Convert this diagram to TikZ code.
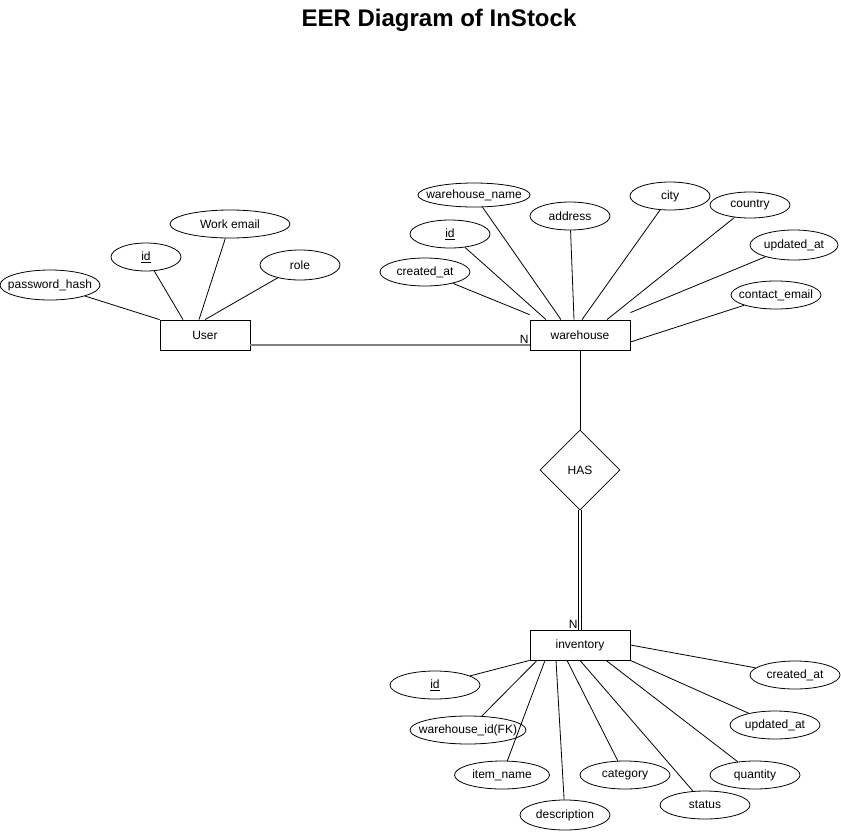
\documentclass[tikz,border=0pt]{standalone}
\usepackage{fontspec}
\setmainfont{Liberation Sans}
\usetikzlibrary{shapes.geometric}

\begin{document}
\begin{tikzpicture}[x=1pt,y=-1pt,line width=0.8pt,
	font=\fontsize{12}{14}\selectfont,
	entity/.style={draw,rectangle,minimum width=100pt,minimum height=30pt,inner sep=0pt},
	attr/.style={draw,ellipse,minimum width=80pt,minimum height=28pt,inner ysep=0pt,inner xsep=-8pt},
	rel/.style={draw,diamond,minimum width=80pt,minimum height=80pt,inner sep=0pt,aspect=1},
	card/.style={anchor=south east,inner sep=0.5pt}]
	\useasboundingbox (0,0) rectangle (841,831);
	\node[font=\fontsize{24}{28}\selectfont\bfseries] (title) at (439,20) {EER Diagram of InStock};

	% user
	\node[entity,minimum width=90pt] (user) at (205,335) {User};
	\node[attr,minimum width=100pt,minimum height=30pt] (upw) at (50,285) {password\_hash};
	\node[attr,minimum width=70pt] (uid) at (146,257) {\underline{id}};
	\node[attr,minimum width=120pt] (umail) at (230,224) {Work email};
	\node[attr,minimum height=30pt] (urole) at (300,265) {role};
	\draw (upw) -- (user.north west);
	\draw (uid) -- ([xshift=-22pt]user.north);
	\draw (umail) -- ([xshift=-6pt]user.north);
	\draw (urole) -- (user.north);

	% warehouse
	\node[entity] (wh) at (580,335) {warehouse};
	\node[attr,minimum width=110pt,minimum height=24pt] (wname) at (474,195) {warehouse\_name};
	\node[attr,minimum width=80pt] (wid) at (450,234) {\underline{id}};
	\node[attr,minimum width=90pt] (wcreated) at (425,272) {created\_at};
	\node[attr] (waddr) at (570,216) {address};
	\node[attr] (wcity) at (670,196) {city};
	\node[attr,minimum height=26pt] (wcountry) at (750,205) {country};
	\node[attr,minimum width=88pt,minimum height=30pt] (wupdated) at (794,245) {updated\_at};
	\node[attr,minimum width=90pt] (wmail) at (776,295) {contact\_email};
	\draw (wcreated) -- ([yshift=5pt]wh.north west);
	\draw (wid) -- ([xshift=-34pt]wh.north);
	\draw (wname) -- ([xshift=-19pt]wh.north);
	\draw (waddr) -- ([xshift=-6pt]wh.north);
	\draw (wcity) -- ([xshift=2pt]wh.north);
	\draw (wcountry) -- ([xshift=27pt]wh.north);
	\draw (wupdated) -- ([yshift=7pt]wh.north east);
	\draw (wmail) -- ([yshift=-7pt]wh.east);

	\draw[gray,line width=1.2pt] ([yshift=-10pt]user.east) -- ([yshift=-10pt]wh.west) node[card,black,pos=1] {N};

	% relationship
	\node[rel] (has) at (580,470) {HAS};
	\node[entity] (inv) at (580,645) {inventory};
	\draw (wh) -- (has);
	\draw ([xshift=-1.5pt]has.south) -- ([xshift=-1.5pt]inv.north) node[card,pos=1,xshift=0pt] {N};
	\draw ([xshift=1.5pt]has.south) -- ([xshift=1.5pt]inv.north);

	% inventory
	\node[attr,minimum width=90pt] (iid) at (435,685) {\underline{id}};
	\node[attr,minimum width=116pt] (iwid) at (468,730) {warehouse\_id(FK)};
	\node[attr,minimum width=95pt] (iname) at (502,775) {item\_name};
	\node[attr,minimum width=90pt,minimum height=30pt] (idesc) at (565,815) {description};
	\node[attr,minimum width=90pt] (icat) at (625,775) {category};
	\node[attr,minimum width=90pt] (istatus) at (705,805) {status};
	\node[attr,minimum width=90pt] (iqty) at (755,775) {quantity};
	\node[attr,minimum width=90pt] (iupdated) at (775,725) {updated\_at};
	\node[attr,minimum width=90pt] (icreated) at (795,675) {created\_at};
	\draw (iid) -- (inv.south west);
	\draw (iwid) -- ([xshift=-43pt]inv.south);
	\draw (iname) -- ([xshift=-35pt]inv.south);
	\draw (idesc) -- ([xshift=-24pt]inv.south);
	\draw (icat) -- ([xshift=-13pt]inv.south);
	\draw (istatus) -- (inv.south);
	\draw (iqty) -- ([xshift=26pt]inv.south);
	\draw (iupdated) -- (inv.south east);
	\draw (icreated) -- (inv.east);
\end{tikzpicture}
\end{document}
